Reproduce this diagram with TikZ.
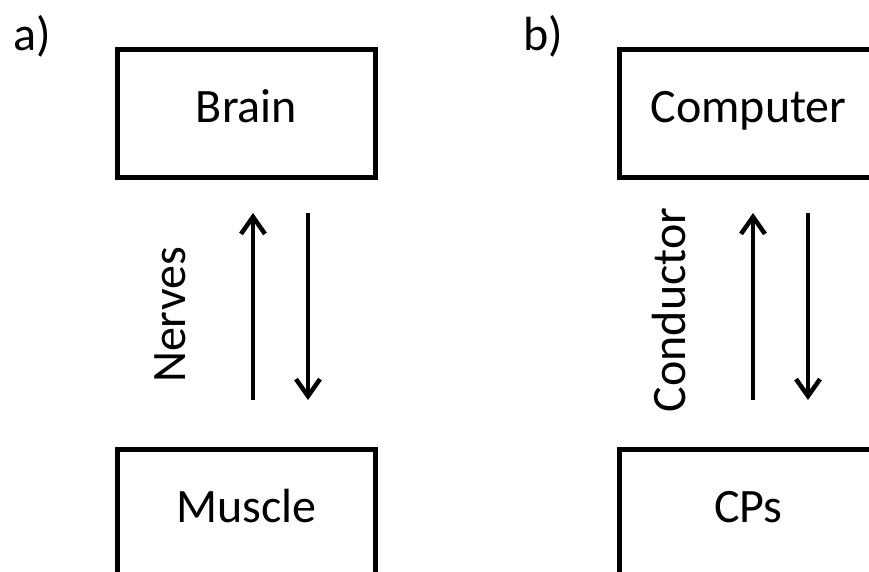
\documentclass[tikz,border=0pt]{standalone}
\usepackage{fontspec}
\setmainfont{Carlito}
\usetikzlibrary{arrows.meta}

\tikzset{
  block/.style={draw, line width=5pt, minimum width=258pt, minimum height=128pt,
    text height=32pt, text depth=14pt, font=\fontsize{48}{58}\selectfont},
  link/.style={line width=4.5pt, -{Straight Barb[length=17pt, width=24pt]}},
  tag/.style={font=\fontsize{48}{58}\selectfont, anchor=base west},
  wire/.style={font=\fontsize{48}{58}\selectfont, rotate=90, anchor=base}
}

\begin{document}
\begin{tikzpicture}[x=1pt, y=-1pt]
  \useasboundingbox (0,0) rectangle (869,571);
  \clip (0,0) rectangle (869,571);

  % a) brain and muscle
  \node[tag] (tag a) at (10,50) {a)};
  \node[block] (brain) at (246.5,113.5) {Brain};
  \node[block] (muscle) at (246.5,513.5) {Muscle};
  \node[wire] (nerves) at (185,315) {Nerves};
  \draw[link] ([xshift=6.5pt, yshift=47pt]muscle.north) -- ([xshift=6.5pt, yshift=-33pt]brain.south);
  \draw[link] ([xshift=61.5pt, yshift=-33pt]brain.south) -- ([xshift=61.5pt, yshift=47pt]muscle.north);

  % b) computer and CPs
  \node[tag] (tag b) at (520,50) {b)};
  \node[block] (computer) at (748.5,113.5) {Computer};
  \node[block] (cps) at (748.5,513.5) {CPs};
  \node[wire] (conductor) at (685,310) {Conductor};
  \draw[link] ([xshift=4.5pt, yshift=47pt]cps.north) -- ([xshift=4.5pt, yshift=-33pt]computer.south);
  \draw[link] ([xshift=59.5pt, yshift=-33pt]computer.south) -- ([xshift=59.5pt, yshift=47pt]cps.north);
\end{tikzpicture}
\end{document}
